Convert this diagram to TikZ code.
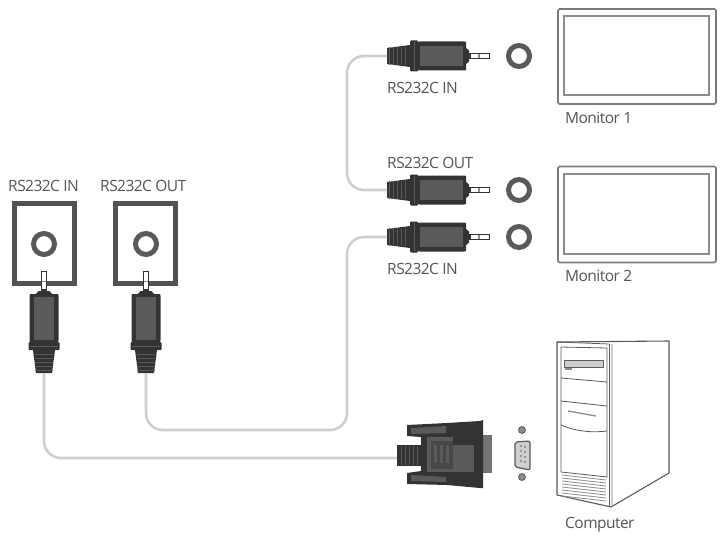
\documentclass[tikz,border=0pt]{standalone}
\usepackage{fontspec}
\setmainfont{Open Sans}
\definecolor{dk}{HTML}{333333}
\definecolor{md}{HTML}{5A5A5A}
\definecolor{lg}{HTML}{8C8C8C}
\definecolor{cab}{HTML}{CFCFCF}
\definecolor{txt}{HTML}{555555}
\tikzset{
  lbl/.style={font=\fontsize{15.5}{18}\selectfont\addfontfeatures{LetterSpace=-3.5},text=txt,inner sep=0pt,anchor=base west},
  cable/.style={draw=cab,line width=2.6pt,rounded corners=17pt},
  ringn/.style={circle,draw=md,line width=5pt,minimum size=21pt,inner sep=0pt,fill=white},
  jackbox/.style={rectangle,draw=dk!85!white,line width=5pt,minimum width=60pt,minimum height=80pt,inner sep=0pt,fill=white},
  panelout/.style={rectangle,rounded corners=1.5pt,draw=md!80!white,line width=1.6pt,inner sep=0pt,fill=white},
  panelin/.style={rectangle,draw=lg,line width=2.2pt,inner sep=0pt,fill=white},
  pc/.style={draw=md,line width=1.1pt,line join=round},
  pcl/.style={draw=lg,line width=.8pt},
  plug/.pic={
    % pin
    \path[draw=dk,line width=.8pt,fill=white] (-23,-2.4) rectangle (-3,2.4);
    \path[fill=dk] (-21,-2.4) rectangle (-25,2.4);
    \path[fill=lg] (-14,-2.4) rectangle (-12.5,2.4);
    % ring
    \path[fill=dk] (-23,-5.5) -- (-26,-8) -- (-26,8) -- (-23,5.5) -- cycle;
    % body
    \path[fill=dk] (-26,-14) -- (-28,-14.5) -- (-72,-14.5) -- (-74,-14) -- (-74,14) -- (-72,14.5) -- (-28,14.5) -- (-26,14) -- cycle;
    \path[fill=md] (-29,-10) rectangle (-72,10);
    % collar
    \path[fill=dk,rounded corners=1pt] (-74,-15.5) rectangle (-82,15.5);
    \path[fill=md] (-77.5,-14) rectangle (-78.5,14);
    % strain relief
    \path[fill=dk] (-82,-11) -- (-105,-8) -- (-105,8) -- (-82,11) -- cycle;
    \foreach \u in {-86,-90,-94,-98,-102} \path[fill=md] (\u,-9) rectangle ++(-1.1,18);
    \coordinate (end) at (-105,0);
  }
}
\begin{document}
\begin{tikzpicture}[x=1pt,y=-1pt]
\useasboundingbox[fill=white] (0,0) rectangle (720,535);
% jack boxes
\node[jackbox] (boxa) at (44.5,243.5) {};
\node[jackbox] (boxb) at (145.5,243.5) {};
\node[ringn] (ringa) at (44,244) {};
\node[ringn] (ringb) at (146,244) {};
% labels
\node[lbl] (la) at (8,191) {RS232C IN};
\node[lbl] (lb) at (100,191) {RS232C OUT};
\node[lbl] (lc) at (387,93) {RS232C IN};
\node[lbl] (ld) at (387,168) {RS232C OUT};
\node[lbl] (le) at (387,274) {RS232C IN};
\node[lbl] (lf) at (565,123) {Monitor 1};
\node[lbl] (lg) at (565,281) {Monitor 2};
\node[lbl] (lh) at (565,528) {Computer};
% rings beside horizontal plugs
\node[ringn] (r1) at (519,56) {};
\node[ringn] (r2) at (519,190) {};
\node[ringn] (r3) at (519,237) {};
% cable way points
\coordinate (t1) at (347,56);
\coordinate (t2) at (347,190);
\coordinate (t3) at (347,237);
\coordinate (t4) at (347,430);
\coordinate (t5) at (146,430);
\coordinate (t6) at (44,458);
\coordinate (dsubin) at (398,458);
% plugs
\pic (p1-) at (492,56) {plug};
\pic (p2-) at (492,190) {plug};
\pic (p3-) at (492,237) {plug};
\pic[rotate=90] (p4-) at (44,268) {plug};
\pic[rotate=90] (p5-) at (146,268) {plug};
% cables
\draw[cable] (p1-end) -- (t1) -- (t2) -- (p2-end);
\draw[cable] (p3-end) -- (t3) -- (t4) -- (t5) -- (p5-end);
\draw[cable] (p4-end) -- (t6) -- (dsubin);
% D-sub plug
\fill[dk] (397,445) rectangle (424,466);
\foreach \x in {401,405,409,413,417} \fill[md] (\x,446) rectangle ++(1,19);
\fill[md!85!white] (478,435) rectangle (492,473);
\fill[dk] (407,425) -- (447,423) -- (480,421) -- (483,420) -- (483,488) -- (480,488) -- (447,485) -- (407,484) -- (407,473) -- (421,471) -- (421,437) -- (407,436) -- cycle;
\fill[md] (411,428) -- (446,426) -- (446,433) -- (411,434) -- cycle;
\fill[md] (411,475) -- (446,477) -- (446,482) -- (411,481) -- cycle;
\fill[md] (427,437) rectangle (474,472);
\fill[dk!90!white] (431,441) rectangle (453,469);
\fill[md] (434,445) rectangle (437,463);
\fill[md] (440,445) rectangle (443,463);
\fill[md] (446,445) rectangle (449,463);
\fill[dk] (453,445) -- (475,445) -- (475,437) -- (453,437) -- cycle;
% port
\node[circle,fill=lg,draw=md,line width=.8pt,minimum size=7pt,inner sep=0pt] (s1) at (522,430) {};
\node[circle,fill=lg,draw=md,line width=.8pt,minimum size=7pt,inner sep=0pt] (s2) at (522,477) {};
\path[draw=md,line width=1.2pt,fill=cab,rounded corners=2pt] (515,442) -- (530,441) -- (530,470) -- (515,467) -- cycle;
\foreach \y in {446,451,456,461} {\fill[md] (521,\y) circle (.8); \fill[md] (525,\y+1) circle (.8);}
% monitors
\node[panelout,minimum width=158pt,minimum height=95pt] (m1) at (637,56.5) {};
\node[panelin,minimum width=145pt,minimum height=79pt] (m1i) at (636.5,55.5) {};
\node[panelout,minimum width=158pt,minimum height=96pt] (m2) at (637,214.5) {};
\node[panelin,minimum width=145pt,minimum height=80pt] (m2i) at (636.5,214) {};
% computer
\draw[pc,fill=white] (557,342) -- (669,341) -- (669,473) -- (611,507) -- (557,495) -- cycle;
\draw[draw=cab,line width=1.6pt] (612,344) -- (612,505);
\draw[pc,line width=.8pt] (609,344) -- (609,507);
\draw[pc,line width=.8pt] (557,342) -- (609,344);
\draw[pc,line width=.8pt] (561,347) -- (607,348) -- (607,477) -- (561,472) -- cycle;
\draw[pc,line width=.8pt] (561,378) -- (607,382);
\draw[pc,line width=.8pt] (561,401) -- (607,406);
\draw[pc,line width=.8pt] (561,425) .. controls (575,431) and (590,433) .. (607,431);
\draw[pc,line width=.8pt,fill=cab] (564,360) rectangle (603,367);
\fill[lg] (565,368) rectangle (572,370);
\draw[draw=lg,line width=1.3pt] (568,411) -- (596,416);
\foreach \i in {0,...,7} \draw[pcl] (562,475+\i*3) -- (606,480+\i*3);
\end{tikzpicture}
\end{document}
